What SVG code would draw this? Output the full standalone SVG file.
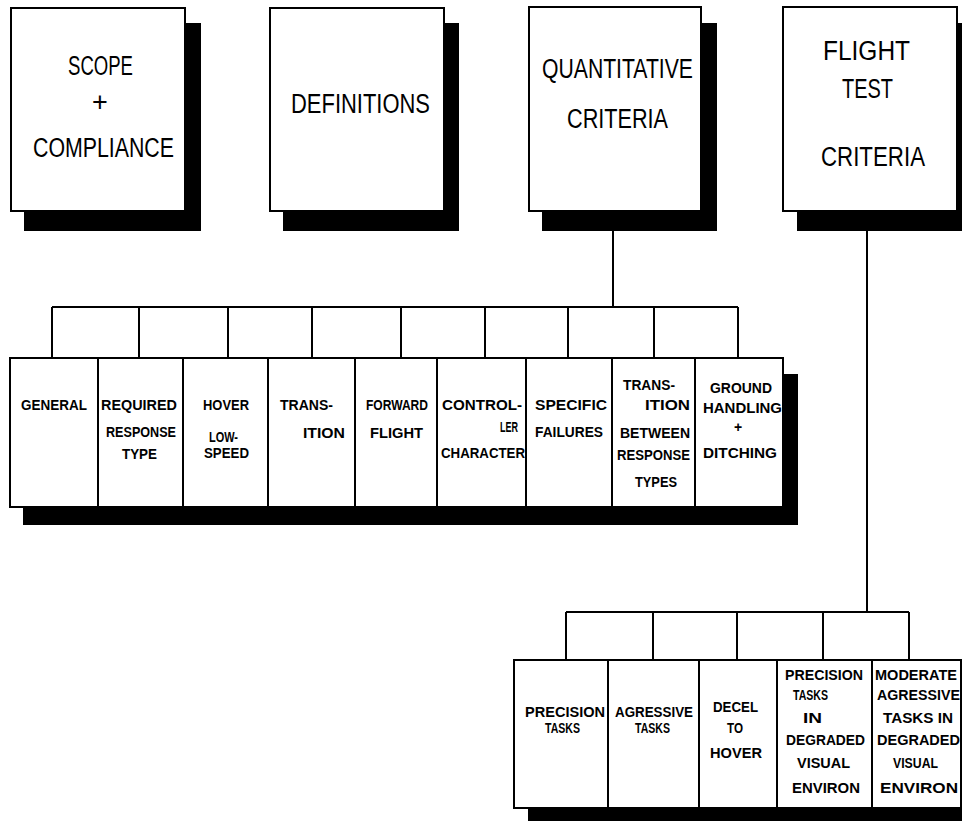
<svg xmlns="http://www.w3.org/2000/svg" width="962" height="821" viewBox="0 0 962 821">
<style>
.box{fill:#fff;stroke:#000;stroke-width:2}
.sh{fill:#000}
.ln{stroke:#000;stroke-width:2;fill:none}
.t1{font-family:"Liberation Sans",Arial,sans-serif;font-size:27px;fill:#000}
.t2{font-family:"Liberation Sans",Arial,sans-serif;font-size:14px;font-weight:bold;fill:#000}
</style>
<rect width="962" height="821" fill="#fff"/>
<g id="connectors">
<path class="ln" d="M613,231V307M52,307H738M52,307V358M139,307V358M228,307V358M312,307V358M401,307V358M485,307V358M568,307V358M654,307V358M738,307V358"/>
<path class="ln" d="M867,231V612M566,612H909M566,612V660M653,612V660M737,612V660M823,612V660M909,612V660"/>
</g>
<g id="scope">
<rect class="sh" x="24" y="23" width="177" height="208"/>
<rect class="box" x="11" y="8" width="174" height="203"/>
<text class="t1" x="68" y="75" textLength="65" lengthAdjust="spacingAndGlyphs">SCOPE</text>
<text class="t1" x="100" y="111" text-anchor="middle" font-size="20">+</text>
<text class="t1" x="33" y="157" textLength="141" lengthAdjust="spacingAndGlyphs">COMPLIANCE</text>
</g>
<g id="definitions">
<rect class="sh" x="283" y="23" width="176" height="208"/>
<rect class="box" x="270" y="8" width="174" height="203"/>
<text class="t1" x="291" y="113" textLength="139" lengthAdjust="spacingAndGlyphs">DEFINITIONS</text>
</g>
<g id="quantitative">
<rect class="sh" x="542" y="23" width="175" height="208"/>
<rect class="box" x="529" y="7" width="172" height="204"/>
<text class="t1" x="542" y="78" font-size="23" textLength="151" lengthAdjust="spacingAndGlyphs">QUANTITATIVE</text>
<text class="t1" x="567" y="128" textLength="101" lengthAdjust="spacingAndGlyphs">CRITERIA</text>
</g>
<g id="flighttest">
<rect class="sh" x="797" y="23" width="175" height="208"/>
<rect class="box" x="783" y="7" width="174" height="204"/>
<text class="t1" x="823" y="60" textLength="87" lengthAdjust="spacingAndGlyphs">FLIGHT</text>
<text class="t1" x="842" y="98" textLength="51" lengthAdjust="spacingAndGlyphs">TEST</text>
<text class="t1" x="821" y="166" textLength="104" lengthAdjust="spacingAndGlyphs">CRITERIA</text>
</g>
<g id="qc-shadow"><rect class="sh" x="23" y="374" width="775" height="151"/></g>
<g id="general">
<rect class="box" x="10" y="358" width="88" height="149"/>
<text class="t2" x="21" y="410" textLength="66" lengthAdjust="spacingAndGlyphs">GENERAL</text>
</g>
<g id="required">
<rect class="box" x="98" y="358" width="85" height="149"/>
<text class="t2" x="101" y="410" textLength="76" lengthAdjust="spacingAndGlyphs">REQUIRED</text>
<text class="t2" x="106" y="437" textLength="70" lengthAdjust="spacingAndGlyphs">RESPONSE</text>
<text class="t2" x="122" y="459" textLength="35" lengthAdjust="spacingAndGlyphs">TYPE</text>
</g>
<g id="hover">
<rect class="box" x="183" y="358" width="85" height="149"/>
<text class="t2" x="203" y="410" textLength="46" lengthAdjust="spacingAndGlyphs">HOVER</text>
<text class="t2" x="209" y="442" textLength="29" lengthAdjust="spacingAndGlyphs">LOW-</text>
<text class="t2" x="204" y="458" textLength="45" lengthAdjust="spacingAndGlyphs">SPEED</text>
</g>
<g id="transition">
<rect class="box" x="268" y="358" width="87" height="149"/>
<text class="t2" x="280" y="410" textLength="53" lengthAdjust="spacingAndGlyphs">TRANS-</text>
<text class="t2" x="303" y="438" textLength="42" lengthAdjust="spacingAndGlyphs">ITION</text>
</g>
<g id="forward">
<rect class="box" x="355" y="358" width="82" height="149"/>
<text class="t2" x="366" y="410" textLength="62" lengthAdjust="spacingAndGlyphs">FORWARD</text>
<text class="t2" x="370" y="438" textLength="53" lengthAdjust="spacingAndGlyphs">FLIGHT</text>
</g>
<g id="controller">
<rect class="box" x="437" y="358" width="89" height="149"/>
<text class="t2" x="442" y="410" textLength="80" lengthAdjust="spacingAndGlyphs">CONTROL-</text>
<text class="t2" x="500" y="432" textLength="18" lengthAdjust="spacingAndGlyphs">LER</text>
<text class="t2" x="441" y="458" textLength="84" lengthAdjust="spacingAndGlyphs">CHARACTER</text>
</g>
<g id="failures">
<rect class="box" x="526" y="358" width="86" height="149"/>
<text class="t2" x="535" y="410" textLength="72" lengthAdjust="spacingAndGlyphs">SPECIFIC</text>
<text class="t2" x="535" y="437" textLength="68" lengthAdjust="spacingAndGlyphs">FAILURES</text>
</g>
<g id="transresp">
<rect class="box" x="612" y="358" width="83" height="149"/>
<text class="t2" x="623" y="390" textLength="52" lengthAdjust="spacingAndGlyphs">TRANS-</text>
<text class="t2" x="645" y="410" textLength="45" lengthAdjust="spacingAndGlyphs">ITION</text>
<text class="t2" x="620" y="438" textLength="70" lengthAdjust="spacingAndGlyphs">BETWEEN</text>
<text class="t2" x="617" y="460" textLength="73" lengthAdjust="spacingAndGlyphs">RESPONSE</text>
<text class="t2" x="635" y="487" textLength="42" lengthAdjust="spacingAndGlyphs">TYPES</text>
</g>
<g id="ground">
<rect class="box" x="695" y="358" width="88" height="149"/>
<text class="t2" x="710" y="393" textLength="62" lengthAdjust="spacingAndGlyphs">GROUND</text>
<text class="t2" x="703" y="413" textLength="79" lengthAdjust="spacingAndGlyphs">HANDLING</text>
<text class="t2" x="738" y="432" text-anchor="middle" font-size="11">+</text>
<text class="t2" x="703" y="458" textLength="74" lengthAdjust="spacingAndGlyphs">DITCHING</text>
</g>
<g id="ft-shadow"><rect class="sh" x="528" y="676" width="440" height="150"/></g>
<g id="precision">
<rect class="box" x="514" y="660" width="94" height="148"/>
<text class="t2" x="525" y="717" textLength="80" lengthAdjust="spacingAndGlyphs">PRECISION</text>
<text class="t2" x="545" y="733" textLength="35" lengthAdjust="spacingAndGlyphs">TASKS</text>
</g>
<g id="aggressive">
<rect class="box" x="608" y="660" width="91" height="148"/>
<text class="t2" x="615" y="717" textLength="78" lengthAdjust="spacingAndGlyphs">AGRESSIVE</text>
<text class="t2" x="635" y="733" textLength="35" lengthAdjust="spacingAndGlyphs">TASKS</text>
</g>
<g id="decel">
<rect class="box" x="699" y="660" width="78" height="148"/>
<text class="t2" x="713" y="712" textLength="45" lengthAdjust="spacingAndGlyphs">DECEL</text>
<text class="t2" x="727" y="733" textLength="16" lengthAdjust="spacingAndGlyphs">TO</text>
<text class="t2" x="710" y="758" textLength="52" lengthAdjust="spacingAndGlyphs">HOVER</text>
</g>
<g id="precision-dve">
<rect class="box" x="777" y="660" width="95" height="148"/>
<text class="t2" x="785" y="680" textLength="78" lengthAdjust="spacingAndGlyphs">PRECISION</text>
<text class="t2" x="793" y="700" textLength="35" lengthAdjust="spacingAndGlyphs">TASKS</text>
<text class="t2" x="803" y="723" textLength="19" lengthAdjust="spacingAndGlyphs">IN</text>
<text class="t2" x="786" y="745" textLength="79" lengthAdjust="spacingAndGlyphs">DEGRADED</text>
<text class="t2" x="797" y="768" textLength="53" lengthAdjust="spacingAndGlyphs">VISUAL</text>
<text class="t2" x="792" y="793" textLength="68" lengthAdjust="spacingAndGlyphs">ENVIRON</text>
</g>
<g id="moderate-dve">
<rect class="box" x="872" y="660" width="89" height="148"/>
<text class="t2" x="875" y="680" textLength="82" lengthAdjust="spacingAndGlyphs">MODERATE</text>
<text class="t2" x="877" y="700" textLength="83" lengthAdjust="spacingAndGlyphs">AGRESSIVE</text>
<text class="t2" x="883" y="723" textLength="70" lengthAdjust="spacingAndGlyphs">TASKS IN</text>
<text class="t2" x="877" y="745" textLength="83" lengthAdjust="spacingAndGlyphs">DEGRADED</text>
<text class="t2" x="893" y="768" textLength="45" lengthAdjust="spacingAndGlyphs">VISUAL</text>
<text class="t2" x="880" y="793" textLength="78" lengthAdjust="spacingAndGlyphs">ENVIRON</text>
</g>
</svg>
